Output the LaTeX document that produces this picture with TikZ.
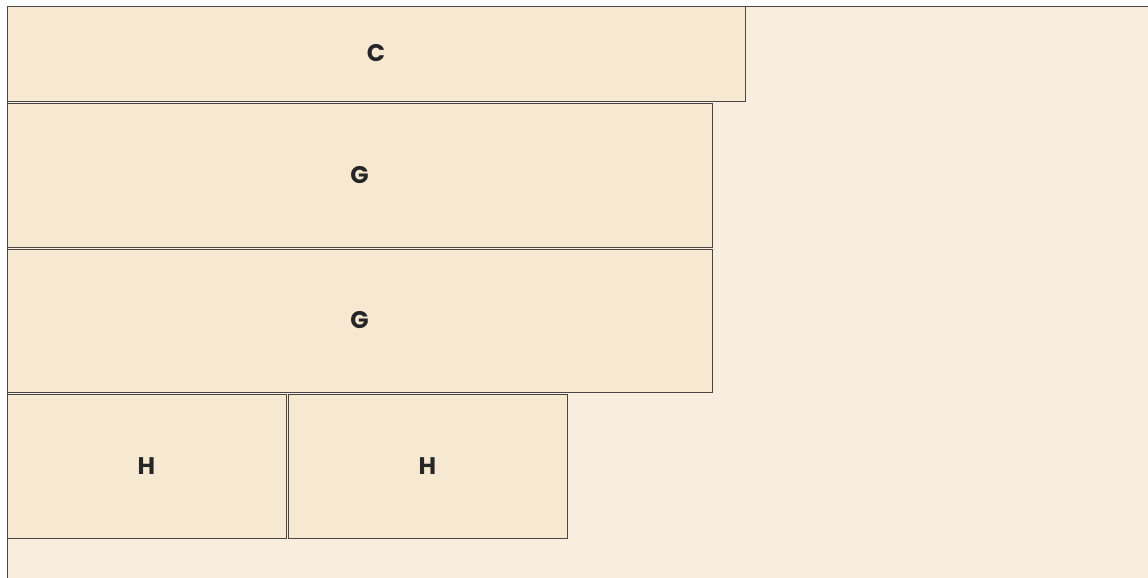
\documentclass[tikz,border=0pt]{standalone}
\usepackage{fontspec}
\setmainfont{Poppins}
\definecolor{bgc}{HTML}{F8EDDF}
\definecolor{boxc}{HTML}{F7E8D1}
\definecolor{linec}{HTML}{4A4646}
\begin{document}
\begin{tikzpicture}[x=1pt,y=-1pt,
  blk/.style={draw=linec,line width=0.9pt,fill=boxc},
  lbl/.style={font=\bfseries\fontsize{24}{28}\selectfont,text=black!85}]
\useasboundingbox (0,0) rectangle (1148,578);
\fill[white] (0,0) rectangle (1148,578);
\draw[draw=linec,line width=0.9pt,fill=bgc] (7,6) rectangle (1160,590);
\draw[blk] (7,6) rectangle node[lbl] (c) {C} (745,101);
\draw[blk] (7,103) rectangle node[lbl] (g1) {G} (712,247);
\draw[blk] (7,249) rectangle node[lbl] (g2) {G} (712,392);
\draw[blk] (7,394) rectangle node[lbl] (h1) {H} (286,538);
\draw[blk] (288,394) rectangle node[lbl] (h2) {H} (567,538);
\end{tikzpicture}
\end{document}
